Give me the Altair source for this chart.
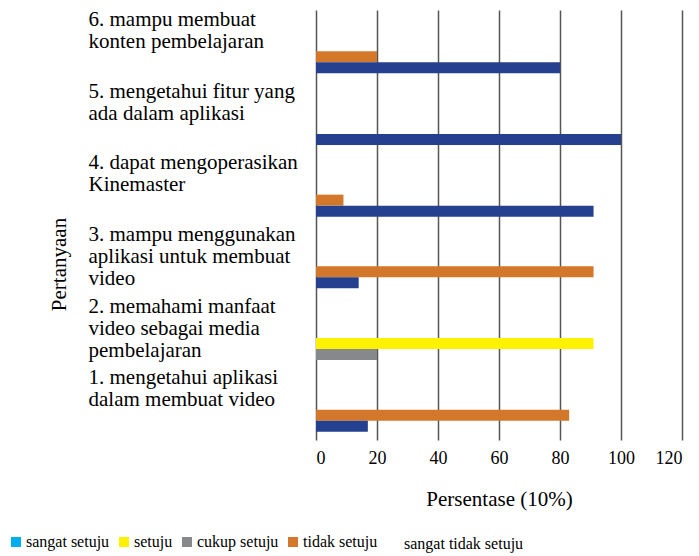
import altair as alt
import pandas as pd

categories = [
    "1. mengetahui aplikasi|dalam membuat video",
    "2. memahami manfaat|video sebagai media|pembelajaran",
    "3. mampu menggunakan|aplikasi untuk membuat|video",
    "4. dapat mengoperasikan|Kinemaster",
    "5. mengetahui fitur yang|ada dalam aplikasi",
    "6. mampu membuat|konten pembelajaran",
]
series_names = ["sangat setuju", "setuju", "cukup setuju", "tidak setuju", "sangat tidak setuju"]
sangat_setuju = [0, 0, 0, 0, 0, 0]
setuju = [0, 91, 0, 0, 0, 0]
cukup_setuju = [0, 20, 0, 0, 0, 0]
tidak_setuju = [83, 0, 91, 9, 0, 20]
sangat_tidak_setuju = [17, 0, 14, 91, 100, 80]
colors = ["#00AEEF", "#FFF200", "#87888C", "#D3782A", "#25408F"]
x_ticks = [0, 20, 40, 60, 80, 100, 120]

all_series = [sangat_setuju, setuju, cukup_setuju, tidak_setuju, sangat_tidak_setuju]
rows = []
for name, vals in zip(series_names, all_series):
    for cat, v in zip(categories, vals):
        if v > 0:
            rows.append({"question": cat, "series": name, "value": v})
df = pd.DataFrame(rows)

FONT = "Liberation Serif, DejaVu Serif, serif"

slot_expr = (
    "(datum.series === 'sangat tidak setuju' || datum.series === 'cukup setuju') ? 'lower' : "
    "((datum.series === 'tidak setuju' || datum.series === 'setuju') ? 'upper' : 's3')"
)

bars = alt.Chart(df).transform_calculate(slot=slot_expr).mark_bar().encode(
    y=alt.Y(
        "question:N",
        sort=categories[::-1],
        scale=alt.Scale(paddingInner=0.233, paddingOuter=0.1165),
        axis=alt.Axis(
            title="Pertanyaan",
            labelExpr="split(datum.label, '|')",
            labelAlign="left",
            labelPadding=228,
            labelOffset=-26,
            labelLimit=400,
            labelFont=FONT,
            labelFontSize=21,
            labelLineHeight=22,
            labelColor="black",
            ticks=False,
            domain=False,
            grid=False,
            titleFont=FONT,
            titleFontSize=21,
            titleFontWeight="normal",
            titleColor="black",
            titleX=-257,
            titleY=254,
            titleAngle=-90,
            titleAlign="center",
            titleBaseline="middle",
        ),
    ),
    yOffset=alt.YOffset(
        "slot:N",
        scale=alt.Scale(domain=["s1", "s2", "s3", "upper", "lower"], paddingInner=0, paddingOuter=0),
    ),
    x=alt.X(
        "value:Q",
        scale=alt.Scale(domain=[0, 120], nice=False),
        axis=alt.Axis(
            values=x_ticks,
            title="Persentase (10%)",
            grid=True,
            gridColor="#555555",
            gridWidth=1.5,
            gridOpacity=1,
            ticks=False,
            domain=False,
            labelFont=FONT,
            labelFontSize=18,
            labelPadding=9,
            labelColor="black",
            titleFont=FONT,
            titleFontSize=21,
            titleFontWeight="normal",
            titleColor="black",
            titleY=59,
            titleBaseline="middle",
        ),
    ),
    color=alt.Color(
        "series:N",
        scale=alt.Scale(domain=series_names, range=colors),
        legend=alt.Legend(
            values=series_names[:4],
            orient="none",
            legendX=-308,
            legendY=524,
            direction="horizontal",
            columns=4,
            title=None,
            symbolType="square",
            symbolSize=100,
            symbolStrokeWidth=0,
            labelFont=FONT,
            labelFontSize=16,
            labelColor="black",
            columnPadding=6,
            labelOffset=2,
        ),
    ),
)

extra = alt.Chart(pd.DataFrame({"label": [series_names[4]]})).mark_text(
    font=FONT, fontSize=16, align="left", baseline="middle", color="black"
).encode(text="label:N", x=alt.value(88), y=alt.value(534))

chart = alt.layer(bars, extra).properties(
    width=366,
    height=430,
    autosize="none",
    padding={"left": 308, "top": 2, "right": 9, "bottom": 116},
).configure_view(strokeOpacity=0)

chart.save("out.html", embed_options={"renderer": "svg", "actions": False})
